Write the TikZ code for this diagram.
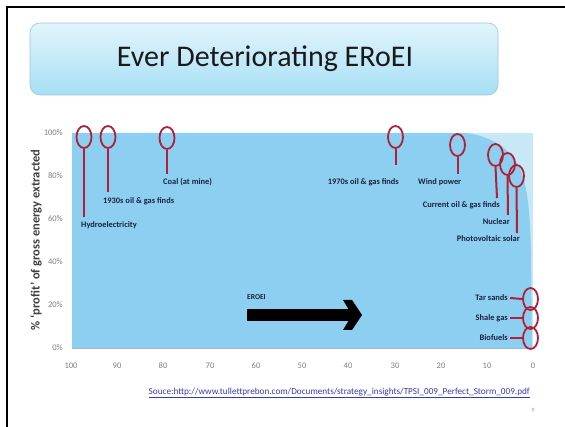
\documentclass[tikz,border=0pt]{standalone}
\usepackage{fontspec}
\setmainfont{Carlito}
\usetikzlibrary{shapes.geometric}
\definecolor{skyd}{HTML}{8CCFF0}
\definecolor{skyl}{HTML}{C8E8F8}
\definecolor{ring}{HTML}{B0203A}
\definecolor{lbl}{HTML}{1B2240}
\definecolor{tick}{HTML}{7F7F7F}
\definecolor{link}{HTML}{3A3AB0}
\definecolor{ttop}{HTML}{E2F5FC}
\definecolor{tbot}{HTML}{A6DFF5}
\definecolor{tbord}{HTML}{9CC6D8}
\definecolor{ttext}{HTML}{1A1A1A}
\definecolor{axln}{HTML}{9FB8C8}
\definecolor{ylc}{HTML}{404040}
\definecolor{pgc}{HTML}{A0A0A0}
\tikzset{
  ringnode/.style={ellipse, draw=ring, line width=1.8pt, minimum width=15pt, minimum height=22pt, inner sep=0pt},
  stem/.style={draw=ring, line width=2pt},
  lab/.style={text=lbl, font=\fontsize{8.4}{9}\selectfont\bfseries, inner sep=0pt},
  ticklab/.style={text=tick, font=\fontsize{8.5}{9}\selectfont, inner sep=0pt},
}
\begin{document}
\begin{tikzpicture}[x=1pt,y=-1pt]
\useasboundingbox (0,0) rectangle (565,427);
\fill[white] (0,0) rectangle (565,427);
% slide border
\draw[line width=2.5pt, black] (7,430) -- (7,7) -- (570,7);
% title box
\shade[rounded corners=10pt, top color=ttop, bottom color=tbot] (30,23) rectangle (498,95);
\draw[rounded corners=10pt, draw=tbord, line width=0.6pt] (30,23) rectangle (498,95);
\node[font=\fontsize{30}{34}\selectfont, text=ttext] (title) at (265,59) {Ever Deteriorating ERoEI};
% plot area
\fill[skyl] (72,133) rectangle (533,348);
\fill[skyd] (72,348) -- (72,133) -- (466,133)
  .. controls (490,136) and (510,148) .. (520,168)
  .. controls (528,188) and (530,215) .. (531,250)
  -- (532,348) -- cycle;
\draw[axln, line width=0.6pt] (72,348) -- (533,348);
% y ticks
\foreach \v/\y in {100/133,80/176,60/219,40/262,20/305,0/348}
  \node[ticklab, anchor=east] (yt\v) at (63,\y) {\v\%};
% x ticks
\foreach \v/\x in {100/71,90/117,80/163,70/210,60/256,50/302,40/348,30/395,20/441,10/487,0/533}
  \node[ticklab] (xt\v) at (\x,366) {\v};
% y axis label
\node[text=ylc, font=\fontsize{12.5}{13}\selectfont\bfseries, rotate=90] (ylab) at (36,240) {\% `profit' of gross energy extracted};
% top markers
\node[ringnode] (hy) at (84,137) {};
\node[ringnode] (o30) at (108,137) {};
\node[ringnode] (coal) at (167,138) {};
\node[ringnode] (o70) at (395.5,137) {};
\node[ringnode] (wind) at (457.5,145) {};
\node[ringnode] (cur) at (495.5,155) {};
\node[ringnode] (nuc) at (507.5,164) {};
\node[ringnode] (pv) at (516.5,176) {};
\coordinate (hyE) at (84,217);
\coordinate (o30E) at (108,192);
\coordinate (coalE) at (167,174);
\coordinate (o70E) at (395.5,165);
\coordinate (windE) at (457.5,174);
\coordinate (curE) at (497,198);
\coordinate (nucE) at (508,215);
\coordinate (pvE) at (517,233);
\draw[stem] (hy.south) -- (hyE);
\draw[stem] (o30.south) -- (o30E);
\draw[stem] (coal.south) -- (coalE);
\draw[stem] (o70.south) -- (o70E);
\draw[stem] (wind.south) -- (windE);
\draw[stem] (cur.south) -- (curE);
\draw[stem] (nuc.south) -- (nucE);
\draw[stem] (pv.south) -- (pvE);
\node[lab, anchor=west] (hyL) at (81,225) {Hydroelectricity};
\node[lab, anchor=west] (o30L) at (103,201) {1930s oil \& gas finds};
\node[lab, anchor=west] (coalL) at (163,182) {Coal (at mine)};
\node[lab, anchor=east] (o70L) at (399,182) {1970s oil \& gas finds};
\node[lab, anchor=west] (windL) at (418,182) {Wind power};
\node[lab, anchor=east] (curL) at (500,205) {Current oil \& gas finds};
\node[lab, anchor=east] (nucL) at (510,222) {Nuclear};
\node[lab, anchor=east] (pvL) at (520,239) {Photovoltaic solar};
% right markers
\node[ringnode] (tar) at (530.5,299) {};
\node[ringnode] (sha) at (530.5,318) {};
\node[ringnode] (bio) at (530.5,338) {};
\node[lab, anchor=east] (tarL) at (508,298) {Tar sands};
\node[lab, anchor=east] (shaL) at (508,318) {Shale gas};
\node[lab, anchor=east] (bioL) at (508,338) {Biofuels};
\draw[stem] ([xshift=2pt]tarL.east) -- (tar.west);
\draw[stem] ([xshift=2pt]shaL.east) -- (sha.west);
\draw[stem] ([xshift=2pt]bioL.east) -- (bio.west);
% EROEI arrow
\node[lab, anchor=west, font=\fontsize{7.5}{8}\selectfont\bfseries] (erL) at (247,297) {EROEI};
\coordinate (arS) at (247,315);
\coordinate (arE) at (352,315);
\draw[line width=12pt, black] (arS) -- (arE);
\fill[black] (343,300) -- (352,300) -- (362,315) -- (352,330) -- (343,330) -- (352,315) -- cycle;
% source
\node[text=link, font=\fontsize{9.2}{10}\selectfont, inner sep=0pt, anchor=east] (src) at (530,393) {\underline{Souce:http://www.tullettprebon.com/Documents/strategy\_insights/TPSI\_009\_Perfect\_Storm\_009.pdf}};
\node[ticklab, font=\fontsize{6.5}{7}\selectfont, text=pgc] (pg) at (533,410) {9};
\end{tikzpicture}
\end{document}
